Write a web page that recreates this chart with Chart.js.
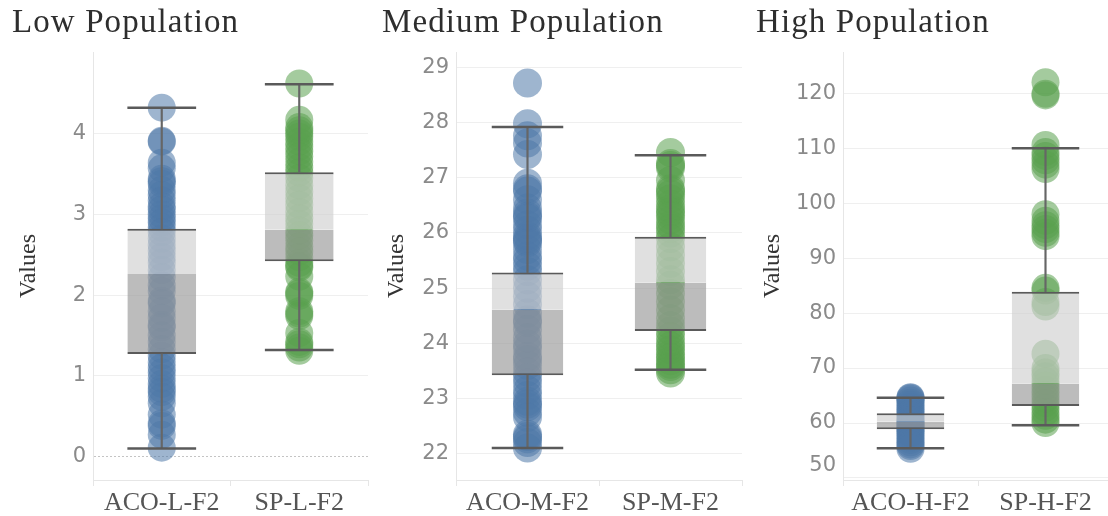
<!DOCTYPE html>
<html>
<head>
<meta charset="utf-8">
<script src="https://cdn.jsdelivr.net/npm/chart.js@4.4.1/dist/chart.umd.min.js"></script>
<style>
  html, body { margin: 0; padding: 0; background: #fff; overflow: hidden; }
  #wrap { position: relative; width: 1108px; height: 516px; overflow: hidden; }
  #wrap canvas { position: absolute; top: 0; }
  .ttl { position: absolute; top: 5px; font-family: 'Liberation Serif', serif; font-size: 33px;
         line-height: 1; color: #2e2e2e; letter-spacing: 1.1px; white-space: nowrap; }
</style>
</head>
<body>
<div id="wrap">
  <canvas id="lowChart" width="372" height="516" style="left:0px"></canvas>
  <canvas id="mediumChart" width="373" height="516" style="left:372px"></canvas>
  <canvas id="highChart" width="370" height="516" style="left:745px"></canvas>
  <div class="ttl" style="left:12px">Low Population</div>
  <div class="ttl" style="left:382px">Medium Population</div>
  <div class="ttl" style="left:756px">High Population</div>
</div>
<script>
// ---------- Low population ----------
const lowCategories = ['ACO-L-F2', 'SP-L-F2'];
const lowAco = [4.32, 3.91, 3.90, 3.64, 3.57, 3.44, 3.41, 3.38, 3.30, 3.24, 3.17, 3.10, 3.06, 3.00, 2.95,
  2.90, 2.84, 2.78, 2.70, 2.62, 2.55, 2.47, 2.40, 2.31, 2.22, 2.12, 2.05, 1.93, 1.90, 1.80, 1.72, 1.63,
  1.60, 1.50, 1.42, 1.33, 1.25, 1.17, 1.10, 1.04, 0.97, 0.90, 0.84, 0.80, 0.74, 0.66, 0.52, 0.41, 0.38,
  0.27, 0.11];
const lowSp = [4.62, 4.17, 4.08, 4.04, 4.00, 3.96, 3.90, 3.84, 3.78, 3.72, 3.65, 3.58, 3.52, 3.45, 3.36,
  3.28, 3.20, 3.12, 3.03, 2.95, 2.88, 2.80, 2.74, 2.68, 2.60, 2.54, 2.47, 2.40, 2.36, 2.34, 2.23, 2.04,
  2.02, 1.99, 1.80, 1.77, 1.74, 1.53, 1.42, 1.39, 1.35, 1.31];
const lowWhiskerLow = [0.10, 1.32];
const lowQ1 = [1.27, 2.42];
const lowMedian = [2.26, 2.81];
const lowQ3 = [2.82, 3.52];
const lowWhiskerHigh = [4.32, 4.61];
const lowTicks = [0, 1, 2, 3, 4];

// ---------- Medium population ----------
const mediumCategories = ['ACO-M-F2', 'SP-M-F2'];
const mediumAco = [28.72, 27.98, 27.76, 27.63, 27.42, 26.90, 26.80, 26.76, 26.60, 26.45, 26.36, 26.30,
  26.27, 26.15, 26.05, 25.95, 25.90, 25.86, 25.82, 25.70, 25.58, 25.50, 25.40, 25.30, 25.15, 25.00,
  24.85, 24.70, 24.55, 24.42, 24.38, 24.25, 24.10, 23.98, 23.90, 23.76, 23.70, 23.60, 23.48, 23.38,
  23.28, 23.15, 23.05, 22.95, 22.90, 22.85, 22.75, 22.66, 22.35, 22.31, 22.27, 22.20, 22.10];
const mediumSp = [27.46, 27.26, 27.22, 27.18, 26.95, 26.80, 26.76, 26.70, 26.62, 26.52, 26.44, 26.38,
  26.32, 26.24, 26.15, 26.08, 26.00, 25.90, 25.75, 25.60, 25.45, 25.30, 25.15, 25.05, 24.90, 24.75,
  24.60, 24.45, 24.32, 24.22, 24.12, 24.02, 23.95, 23.88, 23.80, 23.74, 23.68, 23.62, 23.58, 23.52,
  23.46];
const mediumWhiskerLow = [22.10, 23.52];
const mediumQ1 = [23.42, 24.22];
const mediumMedian = [24.61, 25.10];
const mediumQ3 = [25.28, 25.93];
const mediumWhiskerHigh = [27.92, 27.41];
const mediumTicks = [22, 23, 24, 25, 26, 27, 28, 29];

// ---------- High population ----------
const highCategories = ['ACO-H-F2', 'SP-H-F2'];
const highAco = [64.7, 64.6, 64.4, 64.1, 63.7, 63.3, 62.9, 62.5, 62.1, 61.7, 61.3, 60.9, 60.5, 60.2,
  60.0, 59.7, 59.4, 59.1, 58.8, 58.5, 58.1, 57.7, 57.3, 56.9, 56.5, 56.1, 55.8, 55.3];
const highSp = [122.0, 119.9, 119.6, 110.6, 109.3, 108.6, 107.8, 107.0, 106.2, 98.0, 96.8, 96.0, 95.3,
  94.6, 94.0, 84.6, 84.1, 82.0, 81.2, 72.6, 70.0, 69.2, 68.5, 67.6, 66.8, 66.0, 65.2, 64.4, 63.6, 62.8,
  62.0, 61.3, 60.6, 60.0];
const highWhiskerLow = [55.4, 59.6];
const highQ1 = [58.85, 63.1];
const highMedian = [60.24, 67.2];
const highQ3 = [61.77, 83.9];
const highWhiskerHigh = [64.6, 110.0];
const highTicks = [50, 60, 70, 80, 90, 100, 110, 120];

// ---------- shared styling ----------
const BLUE_DOT = 'rgba(78,121,167,0.55)';
const GREEN_DOT = 'rgba(89,161,79,0.55)';
const BOX_UPPER = 'rgba(206,206,206,0.64)';
const BOX_LOWER = 'rgba(152,152,152,0.65)';
const LINE_DARK = '#5a5a5a';
const GRID = '#efefef';
const AXIS_LINE = '#e6e6e6';

function drawPanel(canvasId, p) {
  const cats = p.categories;
  // cap half-length = half of the box width (box = half of a category band)
  const capRadius = c => {
    const a = c.chart.chartArea;
    return a ? (a.right - a.left) / 8 : 34;
  };
  const boxBase = { type: 'bar', grouped: false, barPercentage: 0.5, categoryPercentage: 1,
                    borderSkipped: false, borderColor: LINE_DARK, order: 2 };
  const whiskerBase = { type: 'bar', grouped: false, barThickness: 1.5, backgroundColor: '#666',
                        borderWidth: 0, order: 1 };

  new Chart(document.getElementById(canvasId), {
    type: 'bar',
    data: {
      labels: cats,
      datasets: [
        { type: 'scatter', label: 'caps', order: 0,
          data: cats.flatMap((c, i) => [{ x: c, y: p.whiskerLow[i] }, { x: c, y: p.whiskerHigh[i] }]),
          pointStyle: 'line', pointRadius: capRadius, pointHoverRadius: capRadius,
          pointBorderColor: LINE_DARK, pointBorderWidth: 2.5, showLine: false },
        { ...whiskerBase, label: 'upper whisker', data: cats.map((c, i) => [p.q3[i], p.whiskerHigh[i]]) },
        { ...whiskerBase, label: 'lower whisker', data: cats.map((c, i) => [p.whiskerLow[i], p.q1[i]]) },
        { ...boxBase, label: 'median to Q3', backgroundColor: BOX_UPPER,
          borderWidth: { top: 2, right: 0, bottom: 0, left: 0 },
          data: cats.map((c, i) => [p.median[i], p.q3[i]]) },
        { ...boxBase, label: 'Q1 to median', backgroundColor: BOX_LOWER,
          borderWidth: { top: 0, right: 0, bottom: 2, left: 0 },
          data: cats.map((c, i) => [p.q1[i], p.median[i]]) },
        { type: 'scatter', label: cats[0], order: 3, showLine: false,
          data: p.aco.map(v => ({ x: cats[0], y: v })),
          pointRadius: p.dotRadius, pointHoverRadius: p.dotRadius,
          pointBackgroundColor: BLUE_DOT, pointBorderWidth: 0, pointBorderColor: 'rgba(0,0,0,0)' },
        { type: 'scatter', label: cats[1], order: 3, showLine: false,
          data: p.sp.map(v => ({ x: cats[1], y: v })),
          pointRadius: p.dotRadius, pointHoverRadius: p.dotRadius,
          pointBackgroundColor: GREEN_DOT, pointBorderWidth: 0, pointBorderColor: 'rgba(0,0,0,0)' }
      ]
    },
    options: {
      responsive: false,
      devicePixelRatio: 1,
      animation: false,
      layout: { autoPadding: false, padding: { top: 52, left: 0, right: p.rightPad, bottom: 0 } },
      plugins: { legend: { display: false }, tooltip: { enabled: false } },
      scales: {
        x: {
          type: 'category',
          labels: cats,
          offset: true,
          afterFit: s => { s.height = 36; },
          grid: { display: true, offset: true, drawOnChartArea: false, drawTicks: true, tickLength: 6,
                  color: AXIS_LINE, tickColor: AXIS_LINE },
          border: { display: true, color: AXIS_LINE },
          ticks: { font: { family: 'Liberation Serif', size: 26 }, color: '#555', padding: 2,
                   maxRotation: 0, autoSkip: false }
        },
        y: {
          type: 'linear',
          min: p.min,
          max: p.max,
          afterBuildTicks: s => { s.ticks = p.ticks.map(v => ({ value: v })); },
          afterFit: s => { s.width = p.axisWidth; },
          grid: { drawTicks: false, lineWidth: 1,
                  color: c => (c.tick && c.tick.value === 0) ? '#c4c4c4' : GRID },
          border: { display: true, color: AXIS_LINE,
                    dash: c => (c.tick && c.tick.value === 0) ? [2, 2] : [] },
          ticks: {
            font: { family: 'DejaVu Sans', size: 21 },
            color: '#8a8a8a',
            padding: 7,
            // the lowest label sits against the axis floor, so it is lifted half a line
            callback: (v) => (p.liftBottomLabel && v === p.ticks[0]) ? [String(v), ''] : String(v)
          },
          title: { display: true, text: 'Values', color: '#333',
                   font: { family: 'Liberation Serif', size: 24 },
                   padding: { top: p.titlePad, bottom: 0 } }
        }
      }
    }
  });
}

drawPanel('lowChart', {
  categories: lowCategories, aco: lowAco, sp: lowSp,
  whiskerLow: lowWhiskerLow, q1: lowQ1, median: lowMedian, q3: lowQ3, whiskerHigh: lowWhiskerHigh,
  ticks: lowTicks, min: -0.29, max: 5.01,
  axisWidth: 93, rightPad: 4, titlePad: 14.1, dotRadius: 14, liftBottomLabel: false
});
drawPanel('mediumChart', {
  categories: mediumCategories, aco: mediumAco, sp: mediumSp,
  whiskerLow: mediumWhiskerLow, q1: mediumQ1, median: mediumMedian, q3: mediumQ3, whiskerHigh: mediumWhiskerHigh,
  ticks: mediumTicks, min: 21.52, max: 29.28,
  axisWidth: 84, rightPad: 3, titlePad: 10.6, dotRadius: 14.5, liftBottomLabel: false
});
drawPanel('highChart', {
  categories: highCategories, aco: highAco, sp: highSp,
  whiskerLow: highWhiskerLow, q1: highQ1, median: highMedian, q3: highQ3, whiskerHigh: highWhiskerHigh,
  ticks: highTicks, min: 49.63, max: 127.5,
  axisWidth: 98, rightPad: 2, titlePad: 13.1, dotRadius: 14, liftBottomLabel: true
});
</script>
</body>
</html>
